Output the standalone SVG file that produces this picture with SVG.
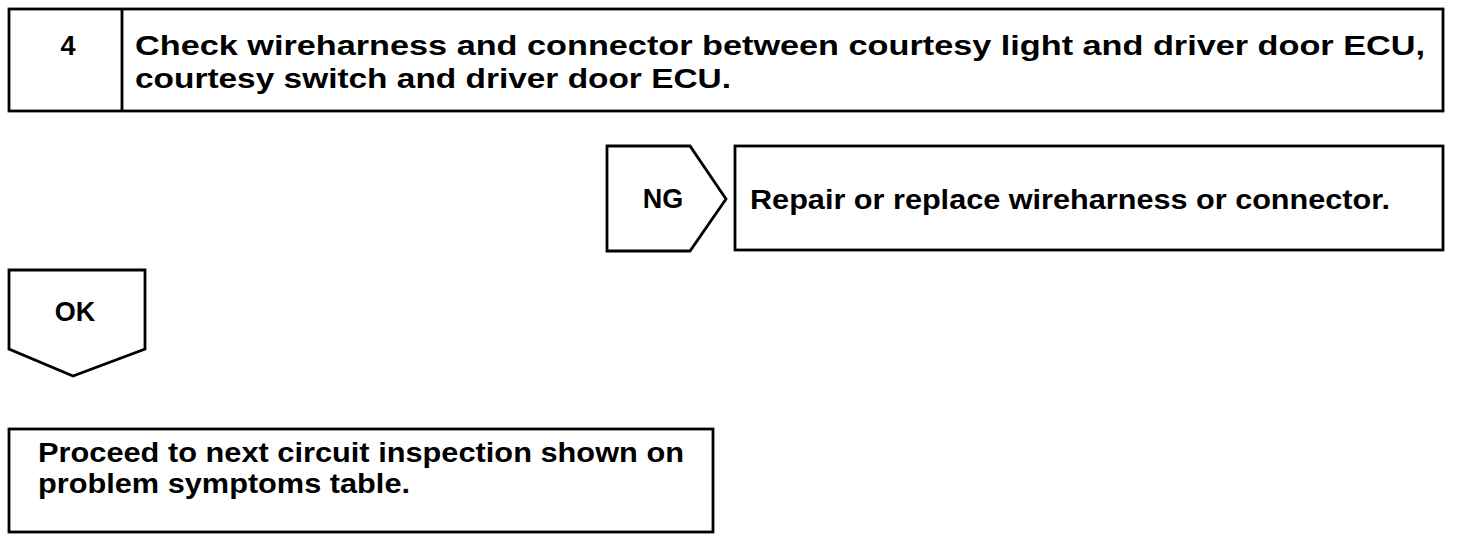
<svg xmlns="http://www.w3.org/2000/svg" width="1472" height="542" viewBox="0 0 1472 542">
<style>
.box{fill:#fff;stroke:#000;stroke-width:2.8}
.t{font-family:"Liberation Sans",Arial,sans-serif;font-weight:bold;font-size:27px;fill:#000}
.m{text-anchor:middle}
</style>
<rect width="1472" height="542" fill="#fff"/>
<g id="step4">
<rect class="box" x="9" y="9" width="1434" height="102"/>
<line class="box" x1="122" y1="9" x2="122" y2="111"/>
<text class="t m" x="68" y="55">4</text>
<text class="t" x="135" y="55" textLength="1290" lengthAdjust="spacingAndGlyphs">Check wireharness and connector between courtesy light and driver door ECU,</text>
<text class="t" x="135" y="88" textLength="596" lengthAdjust="spacingAndGlyphs">courtesy switch and driver door ECU.</text>
</g>
<g id="connectors">
<g id="ng">
<polygon class="box" points="607,146 690,146 726,199 690,251 607,251"/>
<text class="t m" x="663" y="208">NG</text>
</g>
<g id="ok">
<polygon class="box" points="9,270 145,270 145,349 73,376 9,349"/>
<text class="t m" x="75" y="321">OK</text>
</g>
</g>
<g id="repair">
<rect class="box" x="735" y="146" width="708" height="104"/>
<text class="t" x="750" y="209" textLength="640" lengthAdjust="spacingAndGlyphs">Repair or replace wireharness or connector.</text>
</g>
<g id="proceed">
<rect class="box" x="9" y="429" width="704" height="103"/>
<text class="t" x="38" y="462" textLength="646" lengthAdjust="spacingAndGlyphs">Proceed to next circuit inspection shown on</text>
<text class="t" x="38" y="493" textLength="372" lengthAdjust="spacingAndGlyphs">problem symptoms table.</text>
</g>
</svg>
